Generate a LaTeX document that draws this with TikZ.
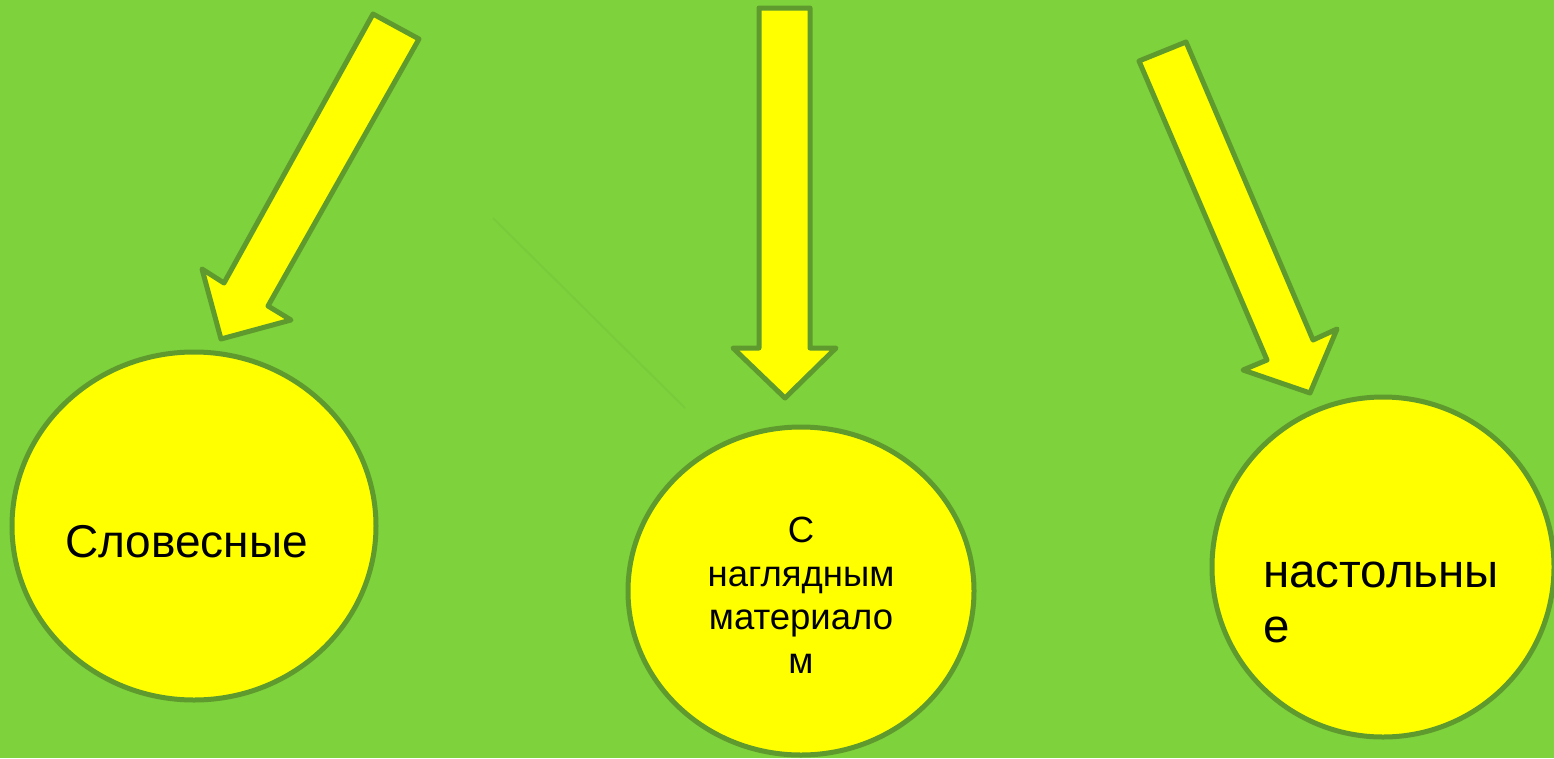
\documentclass[tikz,border=0pt]{standalone}
\usepackage{fontspec}
\setmainfont{Liberation Sans}
\usetikzlibrary{shapes.geometric}
\definecolor{bggreen}{HTML}{7ED23C}
\definecolor{edgegreen}{HTML}{5E9A2E}
\definecolor{faintgreen}{HTML}{79CB3B}
\definecolor{sunyellow}{HTML}{FFFF00}
\tikzset{
  bubble/.style={ellipse, draw=edgegreen, fill=sunyellow, line width=5pt, inner sep=0pt},
  bigarrow/.style={draw=edgegreen, fill=sunyellow, line width=5pt, line join=round},
  textA/.style={font=\fontsize{46}{52}\selectfont, text=black, inner sep=0pt},
  textB/.style={font=\fontsize{36.5}{43.5}\selectfont, text=black, inner sep=0pt},
  textC/.style={font=\fontsize{47.5}{55}\selectfont, text=black, inner sep=0pt},
}
\begin{document}
\begin{tikzpicture}[x=1pt,y=-1pt]
\fill[bggreen] (0,0) rectangle (1554,758);
\useasboundingbox (0,0) rectangle (1554,758);

% faint diagonal line
\coordinate (f1) at (493,218);
\coordinate (f2) at (685,408);
\draw[faintgreen, line width=2pt] (f1) -- (f2);

% circles
\node[bubble, minimum width=364pt, minimum height=348pt] (c1) at (194,526) {};
\node[bubble, minimum width=346pt, minimum height=328pt] (c2) at (801,591) {};
\node[bubble, minimum width=342pt, minimum height=340pt] (c3) at (1383,567) {};

% arrows
\draw[bigarrow] (373,14) -- (419,39) -- (268,306) -- (291,320) -- (221,339) -- (202,269) -- (224,283) -- cycle;
\draw[bigarrow] (759,8) -- (810,8) -- (810,348) -- (836,348) -- (785,398) -- (733,348) -- (759,348) -- cycle;
\draw[bigarrow] (1139,61) -- (1186,42) -- (1313,340) -- (1337,329) -- (1310,393) -- (1243,370) -- (1267,360) -- cycle;

% texts
\node[textA, anchor=base] (t1) at (186.5,557) {Словесные};
\node[textB, anchor=base] (t2a) at (801,542) {С};
\node[textB, anchor=base] (t2b) at (801,586) {наглядным};
\node[textB, anchor=base] (t2c) at (801,629) {материало};
\node[textB, anchor=base] (t2d) at (801,673) {м};
\node[textC, anchor=base west] (t3a) at (1263,587) {настольны};
\node[textC, anchor=base west] (t3b) at (1263,642) {е};
\end{tikzpicture}
\end{document}
